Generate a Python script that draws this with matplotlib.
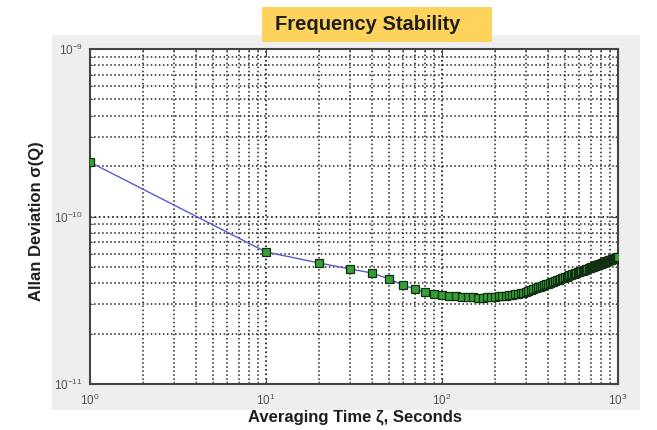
import matplotlib.pyplot as plt
from matplotlib.patches import Rectangle
from matplotlib.ticker import LogLocator, NullFormatter

# averaging times (s) and Allan deviation (x 1e-11)
tau = [1] + list(range(10, 1001, 10))
adev = [
	21.1,
	6.14, 5.28, 4.86, 4.60, 4.24, 3.90, 3.69, 3.54, 3.45, 3.40,
	3.36, 3.33, 3.31, 3.30, 3.29, 3.28, 3.28, 3.29, 3.30, 3.31,
	3.33, 3.35, 3.37, 3.39, 3.41, 3.44, 3.46, 3.49, 3.51, 3.54,
	3.59, 3.63, 3.68, 3.72, 3.77, 3.81, 3.85, 3.89, 3.93, 3.97,
	4.01, 4.05, 4.09, 4.13, 4.16, 4.20, 4.24, 4.27, 4.31, 4.34,
	4.38, 4.41, 4.45, 4.48, 4.51, 4.54, 4.58, 4.61, 4.64, 4.67,
	4.70, 4.73, 4.76, 4.79, 4.82, 4.85, 4.88, 4.91, 4.94, 4.97,
	5.00, 5.02, 5.05, 5.08, 5.11, 5.13, 5.16, 5.19, 5.21, 5.24,
	5.27, 5.29, 5.32, 5.34, 5.37, 5.40, 5.42, 5.44, 5.47, 5.49,
	5.52, 5.54, 5.57, 5.59, 5.61, 5.64, 5.66, 5.68, 5.71, 5.73,
]
adev = [v * 1e-11 for v in adev]

xticks = [1, 10, 100, 1000]
xticklabels = [r'$\mathdefault{10^{0}}$', r'$\mathdefault{10^{1}}$',
	r'$\mathdefault{10^{2}}$', r'$\mathdefault{10^{3}}$']
yticks = [1e-11, 1e-10, 1e-9]
yticklabels = [r'$\mathdefault{10^{-11}}$', r'$\mathdefault{10^{-10}}$',
	r'$\mathdefault{10^{-9}}$']

title = 'Frequency Stability'
xlabel = 'Averaging Time ζ, Seconds'
ylabel = 'Allan Deviation σ(Q)'

plt.rcParams['font.family'] = ['Liberation Sans', 'DejaVu Sans']
plt.rcParams['axes.unicode_minus'] = False

fig = plt.figure(figsize=(6.57, 4.30), dpi=100)
W, H = 657, 430

# grey panel behind the plot
fig.patches.append(Rectangle((52 / W, 1 - 410 / H), 588 / W, 375 / H,
	transform=fig.transFigure, facecolor='#eeeeee', edgecolor='none', zorder=-2))

# title banner
fig.patches.append(Rectangle((262 / W, 1 - 42 / H), 230 / W, 35 / H,
	transform=fig.transFigure, facecolor='#fdd35c', edgecolor='none', zorder=-1))
fig.text(368 / W, 1 - 24 / H, title, ha='center', va='center',
	fontsize=14.5, fontweight='bold', color='#1e1e1e')

ax = fig.add_axes([90 / W, 1 - 384 / H, 528 / W, 335 / H])
ax.set_zorder(2)
ax.set_facecolor('white')
ax.set_xscale('log')
ax.set_yscale('log')

ax.plot(tau, adev, color='#5a5ad0', linewidth=1.0, marker='s', markersize=5.5,
	markerfacecolor='#35a035', markeredgecolor='#143014', markeredgewidth=0.9, zorder=3)

ax.set_xticks(xticks, xticklabels)
ax.set_yticks(yticks, yticklabels)
ax.xaxis.set_minor_locator(LogLocator(base=10, subs=range(2, 10), numticks=20))
ax.yaxis.set_minor_locator(LogLocator(base=10, subs=range(2, 10), numticks=20))
ax.xaxis.set_minor_formatter(NullFormatter())
ax.yaxis.set_minor_formatter(NullFormatter())
ax.set_xlim(1, 1000)
ax.set_ylim(1e-11, 1e-9)

ax.grid(True, which='major', linestyle=':', color='#111111', linewidth=1.2)
ax.grid(True, which='minor', linestyle=':', color='#222222', linewidth=1.1)
ax.set_axisbelow(True)

ax.tick_params(which='both', direction='in', top=True, right=True, colors='#444444')
ax.tick_params(which='major', length=4, labelsize=8.5, labelcolor='#555555')
ax.tick_params(axis='x', which='major', pad=6)
ax.tick_params(axis='y', which='major', pad=5)
ax.tick_params(which='minor', length=2)
for spine in ax.spines.values():
	spine.set_color('#444444')
	spine.set_linewidth(1.5)

fig.text(355 / W, 1 - 417 / H, xlabel, ha='center', va='center',
	fontsize=12, fontweight='bold', color='#1e1e1e')
fig.text(37 / W, 1 - 221 / H, ylabel, ha='center', va='center', rotation=90,
	fontsize=12, fontweight='bold', color='#1e1e1e')

fig.savefig('out.png', dpi=100)
